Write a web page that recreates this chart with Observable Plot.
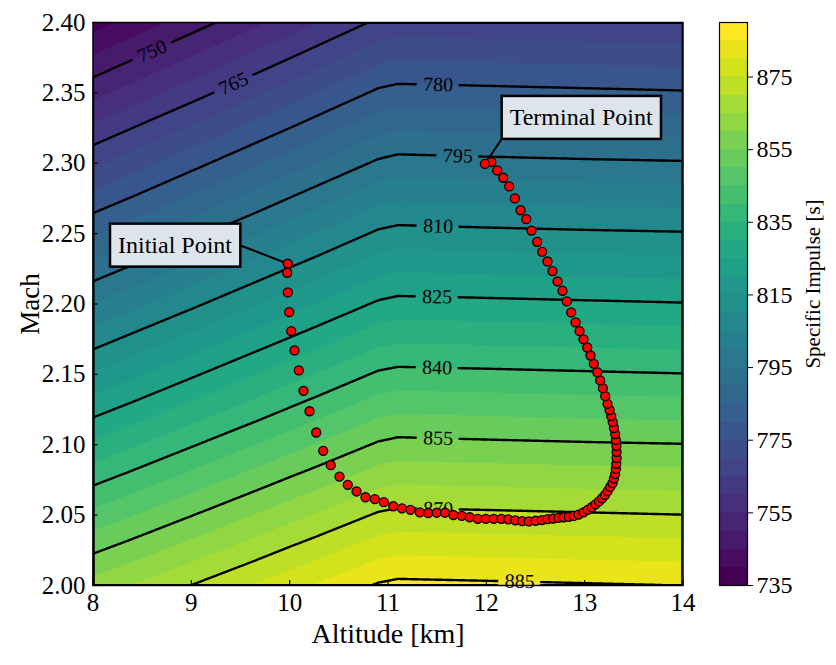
<!DOCTYPE html>
<html>
<head>
<meta charset="utf-8">
<script src="https://cdn.jsdelivr.net/npm/d3@7"></script>
<script src="https://cdn.jsdelivr.net/npm/@observablehq/plot@0.6"></script>
<style>
  body { margin: 0; background: #fff; }
  #chart { position: relative; width: 836px; height: 665px; background: #fff; }
  #chart svg { position: absolute; left: 0; top: 0; overflow: visible; }
</style>
</head>
<body>
<div id="chart"></div>
<script>
// Specific impulse [s] sampled on an altitude x Mach grid (rows: Mach, columns: altitude)
const altitudes = [8, 9, 10, 10.9, 11.1, 12, 13, 14];
const machNumbers = [2.00, 2.05, 2.10, 2.15, 2.20, 2.25, 2.30, 2.35, 2.40];
const specificImpulse = [
  [862.0, 870.1, 878.3, 885.6, 886.4, 886.0, 885.5, 885.0],
  [846.5, 854.8, 863.2, 870.7, 871.5, 871.1, 870.6, 870.1],
  [831.0, 839.5, 848.0, 855.7, 856.6, 856.1, 855.6, 855.2],
  [815.5, 824.2, 832.9, 840.8, 841.6, 841.2, 840.7, 840.2],
  [800.0, 808.9, 817.8, 825.8, 826.7, 826.3, 825.8, 825.3],
  [784.5, 793.6, 802.7, 810.9, 811.8, 811.3, 810.8, 810.4],
  [769.0, 778.3, 787.6, 795.9, 796.9, 796.4, 795.9, 795.5],
  [753.4, 762.9, 772.4, 781.0, 781.9, 781.5, 781.0, 780.5],
  [737.9, 747.6, 757.3, 766.0, 767.0, 766.5, 766.0, 765.6]
];

// Filled bands, labelled contour lines and colorbar ticks
const fillLevels = [735, 740, 745, 750, 755, 760, 765, 770, 775, 780, 785, 790, 795, 800, 805, 810,
                    815, 820, 825, 830, 835, 840, 845, 850, 855, 860, 865, 870, 875, 880, 885, 890];
const lineLevels = [750, 765, 780, 795, 810, 825, 840, 855, 870, 885];
const colorbarTicks = [735, 755, 775, 795, 815, 835, 855, 875];
const altitudeTicks = [8, 9, 10, 11, 12, 13, 14];
const machTicks = [2.00, 2.05, 2.10, 2.15, 2.20, 2.25, 2.30, 2.35, 2.40];

// Altitude at which each contour line carries its value label
const labelAltitudes = [8.60, 9.43, 11.51, 11.71, 11.51, 11.50, 11.50, 11.51, 11.51, 12.34];

// Flight trajectory, from the initial point to the terminal point
const trajAlt = [9.981, 9.975, 9.981, 9.995, 10.016, 10.049, 10.093, 10.141, 10.202, 10.270,
  10.341, 10.418, 10.507, 10.591, 10.680, 10.771, 10.866, 10.957, 11.053, 11.142,
  11.229, 11.324, 11.409, 11.496, 11.580, 11.665, 11.751, 11.831, 11.913, 11.995,
  12.076, 12.153, 12.223, 12.295, 12.365, 12.432, 12.500, 12.565, 12.624, 12.681,
  12.734, 12.787, 12.839, 12.890, 12.939, 12.988, 13.031, 13.072, 13.110, 13.146,
  13.178, 13.207, 13.234, 13.260, 13.283, 13.298, 13.310, 13.317, 13.322, 13.325,
  13.325, 13.323, 13.318, 13.310, 13.298, 13.285, 13.270, 13.253, 13.232, 13.209,
  13.185, 13.158, 13.128, 13.093, 13.059, 13.026, 12.988, 12.948, 12.907, 12.863,
  12.818, 12.775, 12.724, 12.673, 12.622, 12.568, 12.517, 12.459, 12.406, 12.348,
  12.290, 12.233, 12.172, 12.111, 12.050, 11.985];
const trajMach = [2.2286, 2.2222, 2.2082, 2.1942, 2.1807, 2.1670, 2.1528, 2.1383, 2.1238, 2.1087,
  2.0957, 2.0855, 2.0774, 2.0715, 2.0668, 2.0627, 2.0613, 2.0592, 2.0563, 2.0548,
  2.0538, 2.0519, 2.0514, 2.0517, 2.0517, 2.0501, 2.0494, 2.0485, 2.0474, 2.0474,
  2.0474, 2.0474, 2.0470, 2.0463, 2.0457, 2.0455, 2.0460, 2.0465, 2.0471, 2.0476,
  2.0480, 2.0485, 2.0488, 2.0494, 2.0504, 2.0520, 2.0538, 2.0556, 2.0576, 2.0597,
  2.0620, 2.0643, 2.0670, 2.0700, 2.0727, 2.0760, 2.0792, 2.0828, 2.0865, 2.0906,
  2.0949, 2.0991, 2.1034, 2.1076, 2.1119, 2.1162, 2.1204, 2.1247, 2.1291, 2.1345,
  2.1402, 2.1457, 2.1515, 2.1575, 2.1634, 2.1691, 2.1749, 2.1807, 2.1869, 2.1940,
  2.2018, 2.2094, 2.2160, 2.2233, 2.2302, 2.2371, 2.2442, 2.2522, 2.2603, 2.2666,
  2.2750, 2.2835, 2.2897, 2.2949, 2.3009, 2.2995];

// Annotation callouts: where each leader line leaves its box
const calloutText = ["Initial Point", "Terminal Point"];
const calloutAlt = [9.500, 12.151];
const calloutMach = [2.2416, 2.3167];

const W = 836, H = 665;
const M = {left: 92.5, right: 153.5, top: 22, bottom: 80};
const fontFamily = '"Liberation Serif", "Times New Roman", Times, serif';
const ns = "http://www.w3.org/2000/svg";

const grid = machNumbers.flatMap((m, i) => altitudes.map((a, j) => ({alt: a, mach: m, isp: specificImpulse[i][j]})));
const trajectory = trajAlt.map((a, i) => ({alt: a, mach: trajMach[i]}));
const endpoints = [trajectory[0], trajectory[trajectory.length - 1]];
const callouts = calloutText.map((text, i) => ({text, alt: calloutAlt[i], mach: calloutMach[i], target: endpoints[i]}));

// Bilinear lookup in the table, used to seat the inline labels on their lines
function ispAt(a, m) {
  const j = Math.max(0, Math.min(altitudes.length - 2, d3.bisectRight(altitudes, a) - 1));
  const i = Math.max(0, Math.min(machNumbers.length - 2, d3.bisectRight(machNumbers, m) - 1));
  const ta = (a - altitudes[j]) / (altitudes[j + 1] - altitudes[j]);
  const tm = (m - machNumbers[i]) / (machNumbers[i + 1] - machNumbers[i]);
  const r0 = specificImpulse[i], r1 = specificImpulse[i + 1];
  return (1 - tm) * ((1 - ta) * r0[j] + ta * r0[j + 1]) + tm * ((1 - ta) * r1[j] + ta * r1[j + 1]);
}
function machOnContour(level, a) {
  let lo = 2.0, hi = 2.4;
  for (let k = 0; k < 60; ++k) {
    const mid = (lo + hi) / 2;
    if (ispAt(a, mid) > level) lo = mid; else hi = mid;
  }
  return (lo + hi) / 2;
}

const xScale = Plot.scale({x: {domain: [8, 14], range: [M.left, W - M.right]}});
const yScale = Plot.scale({y: {domain: [2.0, 2.4], range: [H - M.bottom, M.top]}});
function angleAt(a, m) {
  const e = 1e-3;
  const gx = (ispAt(a + e, m) - ispAt(a - e, m)) / (xScale.apply(a + e) - xScale.apply(a - e));
  const gy = (ispAt(a, m + e) - ispAt(a, m - e)) / (yScale.apply(m + e) - yScale.apply(m - e));
  return Math.atan2(-gx, gy) * 180 / Math.PI;
}
const contourLabels = lineLevels.map((level, i) => {
  const alt = labelAltitudes[i];
  const mach = machOnContour(level, alt);
  return {level, alt, mach, angle: angleAt(alt, mach)};
});

const color = {type: "linear", domain: [fillLevels[0], fillLevels[fillLevels.length - 2]], scheme: "viridis"};

const main = Plot.plot({
  width: W, height: H,
  marginLeft: M.left, marginRight: M.right, marginTop: M.top, marginBottom: M.bottom,
  style: {fontFamily, background: "transparent", color: "black"},
  x: {domain: [8, 14]},
  y: {domain: [2.0, 2.4]},
  color,
  marks: [
    Plot.contour(grid, {x: "alt", y: "mach", fill: "isp", interpolate: "barycentric",
      thresholds: fillLevels, stroke: "none", pixelSize: 1, clip: true}),
    Plot.contour(grid, {x: "alt", y: "mach", value: "isp", interpolate: "barycentric",
      thresholds: lineLevels, fill: "none", stroke: "black", strokeWidth: 2.4, pixelSize: 1, clip: true}),
    Plot.text(contourLabels, {x: "alt", y: "mach", text: d => String(d.level), rotate: "angle",
      fontSize: 20, fill: "black", lineAnchor: "middle"}),
    Plot.frame({stroke: "black", strokeWidth: 1.5}),
    Plot.tickX(altitudeTicks, {x: d => d, insetTop: 558, stroke: "black", strokeWidth: 1.2}),
    Plot.tickY(machTicks, {y: d => d, insetRight: 585, stroke: "black", strokeWidth: 1.2}),
    Plot.axisX(altitudeTicks, {tickSize: 0, tickPadding: 8, fontSize: 25, label: null, tickFormat: d3.format("d")}),
    Plot.axisY(machTicks, {tickSize: 0, tickPadding: 7.5, fontSize: 25, label: null, tickFormat: d3.format(".2f")}),
    Plot.text(["Altitude [km]"], {text: d => d, frameAnchor: "bottom", textAnchor: "middle", dy: 57, fontSize: 28}),
    Plot.text(["Mach"], {text: d => d, frameAnchor: "left", textAnchor: "middle", dx: -63, rotate: -90, fontSize: 27}),
    Plot.link(callouts, {x1: "alt", y1: "mach", x2: d => d.target.alt, y2: d => d.target.mach,
      stroke: "black", strokeWidth: 2}),
    Plot.dot(trajectory, {x: "alt", y: "mach", r: 4.5, fill: "#ff0000", stroke: "black", strokeWidth: 1.3}),
    Plot.text(callouts.slice(0, 1), {x: "alt", y: "mach", text: "text", textAnchor: "end", dx: -8.5,
      fontSize: 24, fill: "black"}),
    Plot.text(callouts.slice(1), {x: "alt", y: "mach", text: "text", textAnchor: "start", dx: 8.5, dy: -22,
      fontSize: 24, fill: "black"})
  ]
});

const colorbar = Plot.plot({
  width: W, height: H,
  marginLeft: 719, marginRight: 89, marginTop: M.top, marginBottom: M.bottom,
  style: {fontFamily, background: "transparent", color: "black"},
  x: {domain: [0, 1], axis: null},
  y: {domain: [fillLevels[0], fillLevels[fillLevels.length - 1]]},
  color,
  marks: [
    Plot.rect(d3.pairs(fillLevels), {x1: 0, x2: 1, y1: d => d[0], y2: d => d[1], fill: d => d[0],
      shapeRendering: "crispEdges"}),
    Plot.frame({stroke: "black", strokeWidth: 1.2}),
    Plot.axisY(colorbarTicks, {anchor: "right", tickSize: 5, tickPadding: 4, fontSize: 24, label: null,
      tickFormat: d3.format("d")}),
    Plot.text(["Specific Impulse [s]"], {text: d => d, frameAnchor: "right", textAnchor: "middle",
      dx: 66, dy: -20, rotate: -90, fontSize: 21})
  ]
});

const chart = document.getElementById("chart");
chart.append(colorbar, main);

// Break the contour lines where their value labels sit
const defs = document.createElementNS(ns, "defs");
const mask = document.createElementNS(ns, "mask");
mask.setAttribute("id", "contour-label-gaps");
mask.setAttribute("maskUnits", "userSpaceOnUse");
mask.setAttribute("x", 0); mask.setAttribute("y", 0);
mask.setAttribute("width", W); mask.setAttribute("height", H);
const full = document.createElementNS(ns, "rect");
full.setAttribute("width", W); full.setAttribute("height", H); full.setAttribute("fill", "white");
mask.append(full);
for (const l of contourLabels) {
  const cx = xScale.apply(l.alt), cy = yScale.apply(l.mach);
  const w = 42, h = 16;
  const r = document.createElementNS(ns, "rect");
  r.setAttribute("x", cx - w / 2); r.setAttribute("y", cy - h / 2);
  r.setAttribute("width", w); r.setAttribute("height", h);
  r.setAttribute("fill", "black");
  r.setAttribute("transform", `rotate(${l.angle} ${cx} ${cy})`);
  mask.append(r);
}
defs.append(mask);
main.insertBefore(defs, main.firstChild);
// second contour mark = the black level lines
const contourGroups = main.querySelectorAll('g[aria-label="contour"]');
const lineGroup = contourGroups[contourGroups.length - 1];
if (lineGroup) lineGroup.setAttribute("mask", "url(#contour-label-gaps)");

// Boxes behind the two callout texts (the last two text marks)
const textGroups = main.querySelectorAll('g[aria-label="text"]');
for (const g of Array.from(textGroups).slice(-2)) {
  for (const t of g.querySelectorAll("text")) {
    const b = t.getBBox();
    const r = document.createElementNS(ns, "rect");
    r.setAttribute("x", b.x - 8); r.setAttribute("y", b.y - 8.5);
    r.setAttribute("width", b.width + 16); r.setAttribute("height", b.height + 17);
    r.setAttribute("fill", "#dde4eb"); r.setAttribute("stroke", "black"); r.setAttribute("stroke-width", 2.5);
    const tf = t.getAttribute("transform");
    if (tf) r.setAttribute("transform", tf);
    t.parentNode.insertBefore(r, t);
  }
}
</script>
</body>
</html>
